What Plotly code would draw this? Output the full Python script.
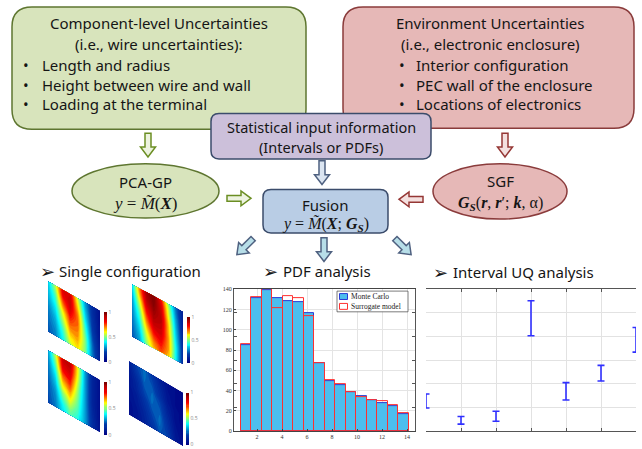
import math
import plotly.graph_objects as go

W, H = 642, 449

# ---------------- data ----------------
# PDF analysis: histogram bins (centres) and counts
bin_centers = [1.11, 1.95, 2.79, 3.63, 4.47, 5.31, 6.15, 6.99,
               7.83, 8.67, 9.51, 10.35, 11.19, 12.03, 12.87, 13.71]
bin_width = 0.84
monte_carlo = [85, 131, 139, 131, 128, 127, 116.5, 66.7,
               49, 45.6, 38.5, 35, 30.7, 28, 25, 17]
surrogate = [86, 132, 140, 121, 133, 131, 113, 67,
             50, 46, 39, 34, 31, 29.5, 25.5, 18]
hist_xticks = [2, 4, 6, 8, 10, 12, 14]
hist_yticks = [0, 20, 40, 60, 80, 100, 120, 140]
series_names = ["Monte Carlo", "Surrogate model"]

# Interval UQ analysis: lower / upper bounds per case
interval_x = [0, 1, 2, 3, 4, 5, 6]
interval_lower = [0.98, 0.30, 0.42, 4.03, 1.32, 2.12, 3.34]
interval_upper = [1.57, 0.62, 0.84, 5.51, 2.05, 2.78, 4.38]

# Single configuration: normalised field magnitude maps (rows top->bottom)
field_a = [
    [0.35, 0.55, 0.85, 0.85, 0.55, 0.30, 0.15, 0.05],
    [0.33, 0.50, 0.82, 0.88, 0.60, 0.32, 0.15, 0.05],
    [0.32, 0.45, 0.75, 0.88, 0.65, 0.35, 0.16, 0.05],
    [0.30, 0.42, 0.68, 0.85, 0.70, 0.38, 0.17, 0.06],
    [0.28, 0.38, 0.60, 0.80, 0.72, 0.42, 0.18, 0.06],
    [0.26, 0.35, 0.55, 0.75, 0.72, 0.45, 0.20, 0.07],
    [0.25, 0.32, 0.50, 0.70, 0.70, 0.48, 0.22, 0.08],
    [0.24, 0.30, 0.45, 0.65, 0.68, 0.50, 0.24, 0.09],
    [0.23, 0.28, 0.42, 0.60, 0.65, 0.50, 0.25, 0.10],
    [0.22, 0.27, 0.40, 0.55, 0.62, 0.50, 0.26, 0.10],
]
field_b = [
    [0.35, 0.70, 0.95, 1.00, 0.80, 0.50, 0.25, 0.10],
    [0.33, 0.65, 0.92, 1.00, 0.85, 0.55, 0.27, 0.10],
    [0.30, 0.58, 0.88, 0.98, 0.88, 0.58, 0.30, 0.10],
    [0.28, 0.52, 0.82, 0.95, 0.90, 0.62, 0.32, 0.11],
    [0.27, 0.46, 0.76, 0.92, 0.90, 0.65, 0.34, 0.12],
    [0.26, 0.42, 0.70, 0.88, 0.88, 0.66, 0.36, 0.13],
    [0.25, 0.38, 0.64, 0.82, 0.86, 0.68, 0.38, 0.14],
    [0.24, 0.35, 0.58, 0.76, 0.82, 0.68, 0.40, 0.15],
    [0.23, 0.32, 0.54, 0.70, 0.78, 0.68, 0.40, 0.15],
    [0.22, 0.30, 0.50, 0.66, 0.74, 0.66, 0.40, 0.15],
]
field_c = [
    [0.30, 0.55, 0.88, 0.90, 0.60, 0.30, 0.12, 0.05],
    [0.28, 0.50, 0.85, 0.88, 0.60, 0.30, 0.12, 0.05],
    [0.26, 0.45, 0.80, 0.85, 0.58, 0.30, 0.12, 0.05],
    [0.25, 0.40, 0.72, 0.80, 0.55, 0.30, 0.12, 0.05],
    [0.24, 0.36, 0.65, 0.75, 0.52, 0.30, 0.12, 0.05],
    [0.23, 0.33, 0.58, 0.68, 0.50, 0.30, 0.12, 0.05],
    [0.22, 0.30, 0.50, 0.62, 0.48, 0.30, 0.13, 0.05],
    [0.22, 0.28, 0.45, 0.56, 0.46, 0.30, 0.14, 0.05],
    [0.21, 0.27, 0.40, 0.50, 0.44, 0.30, 0.15, 0.06],
    [0.20, 0.26, 0.38, 0.46, 0.42, 0.30, 0.15, 0.06],
]
field_d = [
    [0.10, 0.20, 0.25, 0.18, 0.10, 0.06, 0.04, 0.03],
    [0.09, 0.18, 0.25, 0.20, 0.12, 0.06, 0.04, 0.03],
    [0.08, 0.15, 0.24, 0.22, 0.14, 0.07, 0.04, 0.03],
    [0.07, 0.13, 0.22, 0.24, 0.16, 0.08, 0.04, 0.03],
    [0.07, 0.12, 0.20, 0.25, 0.20, 0.10, 0.05, 0.03],
    [0.06, 0.10, 0.17, 0.24, 0.22, 0.12, 0.05, 0.03],
    [0.06, 0.09, 0.15, 0.22, 0.24, 0.14, 0.06, 0.03],
    [0.05, 0.08, 0.13, 0.20, 0.25, 0.16, 0.07, 0.03],
    [0.05, 0.07, 0.12, 0.18, 0.24, 0.18, 0.08, 0.04],
    [0.05, 0.07, 0.11, 0.16, 0.22, 0.20, 0.09, 0.04],
]

# ---------------- helpers ----------------
def px(x):
    return x / W


def py(y):
    return 1 - y / H


def pt(x, y):
    return f"{px(x):.5f},{py(y):.5f}"


def rounded_rect(x0, y0, x1, y1, r):
    return ("M" + pt(x0 + r, y0) + " L" + pt(x1 - r, y0) +
            " Q" + pt(x1, y0) + " " + pt(x1, y0 + r) +
            " L" + pt(x1, y1 - r) + " Q" + pt(x1, y1) + " " + pt(x1 - r, y1) +
            " L" + pt(x0 + r, y1) + " Q" + pt(x0, y1) + " " + pt(x0, y1 - r) +
            " L" + pt(x0, y0 + r) + " Q" + pt(x0, y0) + " " + pt(x0 + r, y0) + " Z")


def block_arrow(cx, cy, length, angle, shaft=6, head=15, head_len=10):
    a = math.radians(angle)
    ux, uy = math.cos(a), math.sin(a)
    vx, vy = -uy, ux
    local = [(-length / 2, -shaft / 2), (length / 2 - head_len, -shaft / 2),
             (length / 2 - head_len, -head / 2), (length / 2, 0),
             (length / 2 - head_len, head / 2), (length / 2 - head_len, shaft / 2),
             (-length / 2, shaft / 2)]
    pts = [(cx + u * ux + v * vx, cy + u * uy + v * vy) for u, v in local]
    return "M" + " L".join(pt(*p) for p in pts) + " Z"


fig = go.Figure()

SANS = "Noto Sans, Open Sans, DejaVu Sans, sans-serif"
SERIF = "Liberation Serif, DejaVu Serif, serif"
INK = "#151515"


def add_path(path, fill, line, width=1.5):
    fig.add_shape(type="path", path=path, xref="paper", yref="paper",
                  fillcolor=fill, line=dict(color=line, width=width), layer="below")


def add_box(x0, y0, x1, y1, fill, line, width=1.0):
    fig.add_shape(type="rect", xref="paper", yref="paper",
                  x0=px(x0), x1=px(x1), y0=py(y1), y1=py(y0),
                  fillcolor=fill, line=dict(color=line, width=width), layer="above")


def add_ellipse(x0, y0, x1, y1, fill, line):
    fig.add_shape(type="circle", xref="paper", yref="paper",
                  x0=px(x0), x1=px(x1), y0=py(y1), y1=py(y0),
                  fillcolor=fill, line=dict(color=line, width=1.5), layer="below")


def label(x, y, text, size=15, family=SANS, xanchor="center", color=INK):
    fig.add_annotation(x=px(x), y=py(y), xref="paper", yref="paper", text=text,
                       showarrow=False, xanchor=xanchor, yanchor="middle",
                       font=dict(size=size, family=family, color=color))


# ---------------- flow diagram ----------------
GREEN_FILL, GREEN_LINE = "#d8e4bc", "#5e7630"
RED_FILL, RED_LINE = "#e6b8b7", "#8a3b3b"
PURPLE_FILL, BLUE_LINE = "#ccc0da", "#3b4c6b"
FUSION_FILL = "#b9cde5"

add_path(rounded_rect(12, 4, 306, 128, 20), GREEN_FILL, GREEN_LINE)
add_path(rounded_rect(343, 4, 634, 127, 20), RED_FILL, RED_LINE)
add_path(rounded_rect(211, 112, 431, 158, 8), PURPLE_FILL, BLUE_LINE)
add_ellipse(72, 163, 219, 218, GREEN_FILL, GREEN_LINE)
add_path(rounded_rect(263, 189, 388, 233, 8), FUSION_FILL, BLUE_LINE)
add_ellipse(433, 163, 567, 219, RED_FILL, RED_LINE)

add_path(block_arrow(148, 144, 24, 90), "#edf3e0", "#6b8e23")
add_path(block_arrow(505, 144, 24, 90), "#f4e0df", "#953735")
add_path(block_arrow(322, 172, 24, 90), "#dbe5f1", "#4f6180")
add_path(block_arrow(239, 198, 24, 0), "#edf3e0", "#6b8e23")
add_path(block_arrow(411, 199, 24, 180), "#f4e0df", "#953735")
add_path(block_arrow(245, 247, 23, 135), "#b7dee8", "#4f6180")
add_path(block_arrow(324, 250, 24, 90), "#b7dee8", "#4f6180")
add_path(block_arrow(403, 247, 23, 45), "#b7dee8", "#4f6180")

label(159, 20, "Component-level Uncertainties")
label(159, 42, "(i.e., wire uncertainties):")
for yy, txt in [(63, "Length and radius"), (83, "Height between wire and wall"),
                (102, "Loading at the terminal")]:
    label(21, yy, "•", xanchor="left")
    label(40, yy, txt, xanchor="left")

label(490, 20, "Environment Uncertainties")
label(490, 42, "(i.e., electronic enclosure)")
for yy, txt in [(63, "Interior configuration"), (83, "PEC wall of the enclosure"),
                (102, "Locations of electronics")]:
    label(397, yy, "•", xanchor="left")
    label(414, yy, txt, xanchor="left")

label(321, 126, "Statistical input information", size=14.5)
label(321, 146, "(Intervals or PDFs)", size=14.5)

label(145, 181, "PCA-GP")
label(145, 203, "<i>y</i> = <i>M\u0303</i>(<b><i>X</i></b>)", size=17, family=SERIF)
label(325, 205, "Fusion")
label(325, 224, "<i>y</i> = <i>M\u0303</i>(<b><i>X</i></b>; <b><i>G</i></b><sub><b><i>S</i></b></sub>)",
      size=16, family=SERIF)
label(500, 180, "SGF")
label(500, 203, "<b><i>G</i></b><sub><b><i>S</i></b></sub>(<b><i>r</i></b>, <b><i>r</i></b>\u2032; "
      "<b><i>k</i></b>, \u03b1)", size=16, family=SERIF)

# section headings with arrowhead bullets
for x_arrow, x_text, yy, txt in [(38, 57, 272, "Single configuration"),
                                 (261, 281, 272, "PDF analysis"),
                                 (431, 451, 273, "Interval UQ analysis")]:
    label(x_arrow, yy, "\u27a2", size=18, family="DejaVu Sans", xanchor="left")
    label(x_text, yy, txt, xanchor="left")

# ---------------- PDF analysis histogram ----------------
MC_FILL, MC_EDGE, SM_EDGE = "#4dbeee", "#2b3bd6", "#ff3030"
fig.add_trace(go.Bar(x=bin_centers, y=monte_carlo, width=bin_width, name=series_names[0],
                     marker=dict(color=MC_FILL, line=dict(color=MC_EDGE, width=1)),
                     xaxis="x", yaxis="y", showlegend=False))
fig.add_trace(go.Bar(x=bin_centers, y=surrogate, width=bin_width, name=series_names[1],
                     marker=dict(color="rgba(0,0,0,0)", line=dict(color=SM_EDGE, width=1)),
                     xaxis="x", yaxis="y", showlegend=False))

# compact legend box inside the histogram axes
add_box(337, 292, 408, 313, "white", "#444", 0.7)
add_box(339.5, 294.5, 347.5, 300.5, MC_FILL, MC_EDGE, 1)
add_box(339.5, 304.5, 347.5, 310.5, "rgba(0,0,0,0)", SM_EDGE, 1)
fig.add_annotation(x=px(349), y=py(297.5), xref="paper", yref="paper", text=series_names[0],
                   showarrow=False, xanchor="left", yanchor="middle",
                   font=dict(size=7.5, family=SERIF, color="#222"))
fig.add_annotation(x=px(349), y=py(307.5), xref="paper", yref="paper", text=series_names[1],
                   showarrow=False, xanchor="left", yanchor="middle",
                   font=dict(size=7.5, family=SERIF, color="#222"))

# ---------------- interval analysis ----------------
mid = [(lo + hi) / 2 for lo, hi in zip(interval_lower, interval_upper)]
half = [(hi - lo) / 2 for lo, hi in zip(interval_lower, interval_upper)]
fig.add_trace(go.Scatter(x=interval_x, y=mid, mode="markers", showlegend=False,
                         marker=dict(size=1, color="rgba(0,0,0,0)"),
                         error_y=dict(type="data", array=half, symmetric=True,
                                      color="#3030ff", thickness=1.6, width=3.5),
                         xaxis="x2", yaxis="y2", cliponaxis=False))

# ---------------- field maps (skewed panels) ----------------
panels = [
    (field_a, dict(left=48, right=100, top=282, skew=30, height=51), (104, 313, 50)),
    (field_b, dict(left=132, right=183, top=285, skew=28, height=53), (187, 318, 46)),
    (field_c, dict(left=48, right=100, top=352, skew=30, height=53), (104, 384, 53)),
    (field_d, dict(left=129, right=183, top=363, skew=32, height=54), (186, 395, 52)),
]
axis_off = dict(showgrid=False, showline=False, showticklabels="none",
                startline=False, endline=False, minorgridcount=0)
for k, (z, g, cb) in enumerate(panels):
    nr, nc = len(z), len(z[0])
    a_flat, b_flat, x_flat, y_flat, z_flat = [], [], [], [], []
    for i in range(nr):
        for j in range(nc):
            a_flat.append(j)
            b_flat.append(i)
            x_flat.append(g["left"] + (g["right"] - g["left"]) * j / (nc - 1))
            y_flat.append(g["top"] + g["skew"] * j / (nc - 1) + g["height"] * i / (nr - 1))
            z_flat.append(z[i][j])
    cid = f"panel{k}"
    fig.add_trace(go.Carpet(a=a_flat, b=b_flat, x=x_flat, y=y_flat, carpet=cid,
                            aaxis=axis_off, baxis=axis_off, xaxis="x3", yaxis="y3"))
    fig.add_trace(go.Contourcarpet(
        a=a_flat, b=b_flat, z=z_flat, carpet=cid, xaxis="x3", yaxis="y3",
        colorscale="Jet", autocontour=False, zmin=0, zmax=1,
        contours=dict(start=0, end=1, size=0.02, coloring="fill", showlines=False),
        line=dict(width=0),
        colorbar=dict(x=px(cb[0]), xanchor="left", y=py(cb[1]), yanchor="top",
                      len=cb[2], lenmode="pixels", thickness=3, thicknessmode="pixels",
                      xpad=0, ypad=0, outlinewidth=0, ticks="", nticks=5,
                      tickfont=dict(size=5, color="#888"))))

# ---------------- layout ----------------
hist_axis_font = dict(size=6, family=SERIF, color="#333")
fig.update_layout(
    width=W, height=H, margin=dict(l=0, r=0, t=0, b=0),
    paper_bgcolor="white", plot_bgcolor="rgba(0,0,0,0)",
    barmode="overlay", bargap=0, showlegend=False,
    xaxis=dict(domain=[px(234), px(415)], range=[0.16, 14.64], tickvals=hist_xticks,
               showgrid=True, gridcolor="#e4e4e4", gridwidth=1, zeroline=False,
               showline=True, linecolor="#444", linewidth=1, mirror=True,
               ticks="inside", ticklen=2, tickcolor="#444", tickfont=hist_axis_font),
    yaxis=dict(domain=[py(434), py(290)], range=[0, 140], tickvals=hist_yticks,
               showgrid=True, gridcolor="#e4e4e4", gridwidth=1, zeroline=False,
               showline=True, linecolor="#444", linewidth=1, mirror=True,
               ticks="inside", ticklen=2, tickcolor="#444", tickfont=hist_axis_font),
    xaxis2=dict(domain=[px(426), px(636)], range=[0, 6], dtick=1, showticklabels=False,
                showgrid=True, gridcolor="#e2e2e2", zeroline=False,
                showline=True, linecolor="#555", mirror="ticks",
                ticks="inside", ticklen=3, tickcolor="#555"),
    yaxis2=dict(domain=[py(434), py(290)], range=[0, 6], dtick=1, showticklabels=False,
                showgrid=True, gridcolor="#e2e2e2", zeroline=False,
                showline=True, linecolor="#555", mirror="ticks",
                ticks="inside", ticklen=3, tickcolor="#555"),
    xaxis3=dict(domain=[0, 1], range=[0, W], visible=False),
    yaxis3=dict(domain=[0, 1], range=[H, 0], visible=False),
)

fig.write_html("out.html")
